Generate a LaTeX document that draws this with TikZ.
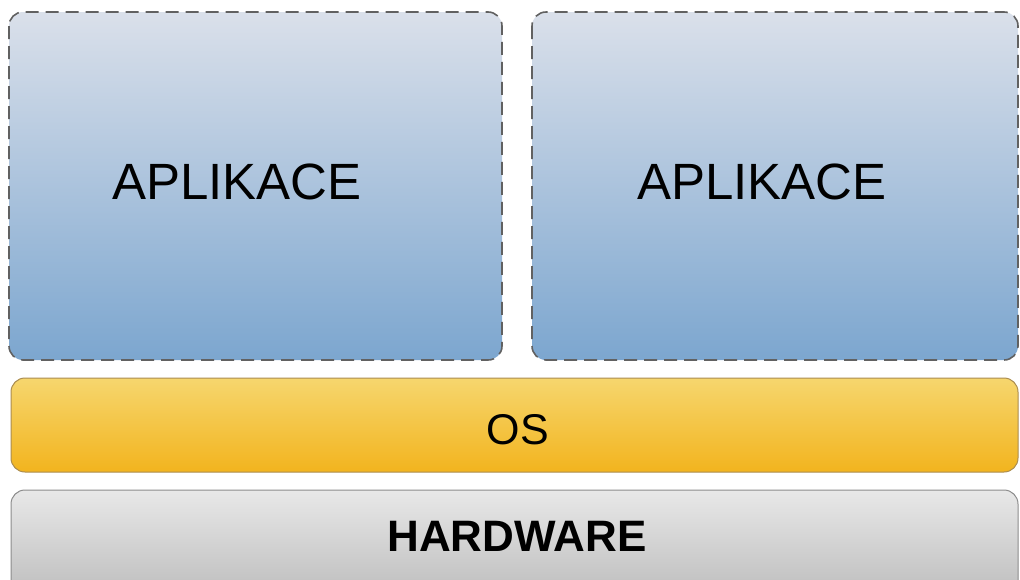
\documentclass[tikz,border=0pt]{standalone}
\usepackage{fontspec}
\setmainfont{Liberation Sans}
\begin{document}
\begin{tikzpicture}[x=1pt,y=-1pt,
  appbox/.style={draw=black!62, dash pattern=on 13pt off 7pt, line width=1.6pt, rounded corners=14pt,
     top color={rgb,255:red,218;green,224;blue,234}, bottom color={rgb,255:red,124;green,166;blue,207}},
  osbox/.style={draw={rgb,255:red,170;green,140;blue,80}, line width=1pt, rounded corners=14pt,
     top color={rgb,255:red,246;green,214;blue,110}, bottom color={rgb,255:red,242;green,180;blue,30}},
  hwbox/.style={draw=black!45, line width=1pt, rounded corners=14pt,
     top color={rgb,255:red,232;green,232;blue,232}, bottom color={rgb,255:red,188;green,188;blue,188}},
  lbl/.style={text=black, inner sep=0pt}]
\useasboundingbox (0,0) rectangle (1020,579);
\clip (0,0) rectangle (1020,579);
\path[appbox] (9,12) rectangle (502,360);
\path[appbox] (532,12) rectangle (1018,360);
\path[osbox] (11,378) rectangle (1018,472);
\path[hwbox] (11,490) rectangle (1018,600);
\node[lbl, font=\fontsize{51}{60}\selectfont] (app1) at (237,182) {APLIKACE};
\node[lbl, font=\fontsize{51}{60}\selectfont] (app2) at (762,182) {APLIKACE};
\node[lbl, font=\fontsize{43}{50}\selectfont] (os) at (518,430) {OS};
\node[lbl, font=\fontsize{44}{50}\selectfont\bfseries] (hw) at (517,536) {HARDWARE};
\end{tikzpicture}
\end{document}
